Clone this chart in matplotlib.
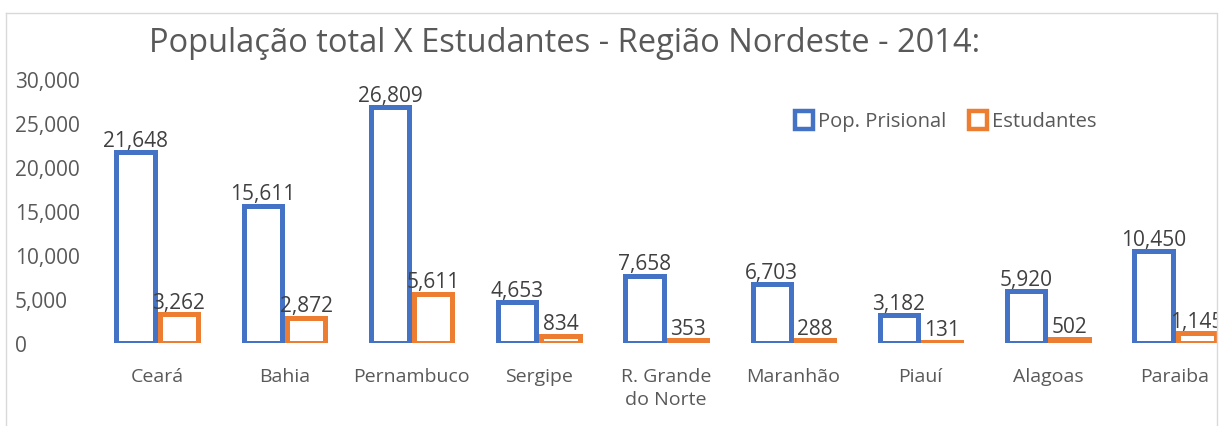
import numpy as np
import matplotlib
matplotlib.use("Agg")
import matplotlib.pyplot as plt
from matplotlib.patches import Patch, Rectangle
from matplotlib.lines import Line2D

plt.rcParams['font.family'] = ['Open Sans', 'DejaVu Sans']

# dados
estados = ["Ceará", "Bahia", "Pernambuco", "Sergipe", "R. Grande\ndo Norte",
           "Maranhão", "Piauí", "Alagoas", "Paraiba"]
pop_prisional = [21648, 15611, 26809, 4653, 7658, 6703, 3182, 5920, 10450]
estudantes = [3262, 2872, 5611, 834, 353, 288, 131, 502, 1145]
yticks = [0, 5000, 10000, 15000, 20000, 25000, 30000]

azul = "#4472C4"
laranja = "#ED7D31"
cinza = "#595959"

W, H = 1220, 427
fig = plt.figure(figsize=(W / 100, H / 100), dpi=100)

# area do grafico (passa da borda direita, como no recorte original)
x0, x1 = 93.5, 93.5 + 9 * 127.25
y0, y1 = 344, 80
ax = fig.add_axes([x0 / W, (H - y0) / H, (x1 - x0) / W, (y0 - y1) / H])

x = np.arange(len(estados))
w = 0.30
b1 = ax.bar(x - 0.17, pop_prisional, w, facecolor="white", edgecolor=azul, linewidth=3.6)
b2 = ax.bar(x + 0.17, estudantes, w, facecolor="white", edgecolor=laranja, linewidth=3.6)

for rects, vals in ((b1, pop_prisional), (b2, estudantes)):
    for r, v in zip(rects, vals):
        ax.annotate(f"{v:,}", (r.get_x() + r.get_width() / 2, v), xytext=(0, 1),
                    textcoords="offset points", ha="center", va="bottom",
                    fontsize=15, color="#404040", clip_on=False)

ax.set_xlim(-0.5, len(estados) - 0.5)
ax.set_ylim(0, 30000)
ax.set_yticks(yticks)
ax.set_yticklabels([f"{t:,}" for t in yticks])
ax.set_xticks(x)
ax.set_xticklabels(estados, linespacing=1.35)
ax.tick_params(axis="y", length=0, pad=56.5, labelsize=15, labelcolor=cinza)
ax.tick_params(axis="x", length=0, pad=17, labelsize=14, labelcolor=cinza)
for lab in ax.get_yticklabels():
    lab.set_horizontalalignment("left")
for s in ax.spines.values():
    s.set_visible(False)

fig.text(565 / W, (H - 43) / H, "População total X Estudantes - Região Nordeste - 2014:",
         ha="center", va="center", fontsize=23.5, color=cinza)

handles = [Patch(facecolor="white", edgecolor=azul, linewidth=3.2),
           Patch(facecolor="white", edgecolor=laranja, linewidth=3.2)]
fig.legend(handles, ["Pop. Prisional", "Estudantes"], loc="center left",
           bbox_to_anchor=(795 / W, (H - 122) / H), ncol=2, frameon=False,
           fontsize=14.5, labelcolor=cinza, handlelength=0.9, handleheight=1.0,
           handletextpad=0.25, columnspacing=1.1, borderpad=0, borderaxespad=0)

# borda do grafico
borda = "#D9D9D9"
fig.add_artist(Line2D([6 / W, 1217 / W], [(H - 14) / H] * 2, color=borda, lw=1))
fig.add_artist(Line2D([6 / W] * 2, [0, (H - 14) / H], color=borda, lw=1))
fig.add_artist(Rectangle((1217 / W, 0), 3 / W, 1, transform=fig.transFigure,
                         facecolor="white", edgecolor="none", zorder=10))
fig.add_artist(Line2D([1217 / W] * 2, [0, (H - 14) / H], color=borda, lw=1, zorder=11))

fig.savefig("out.png", dpi=100)
